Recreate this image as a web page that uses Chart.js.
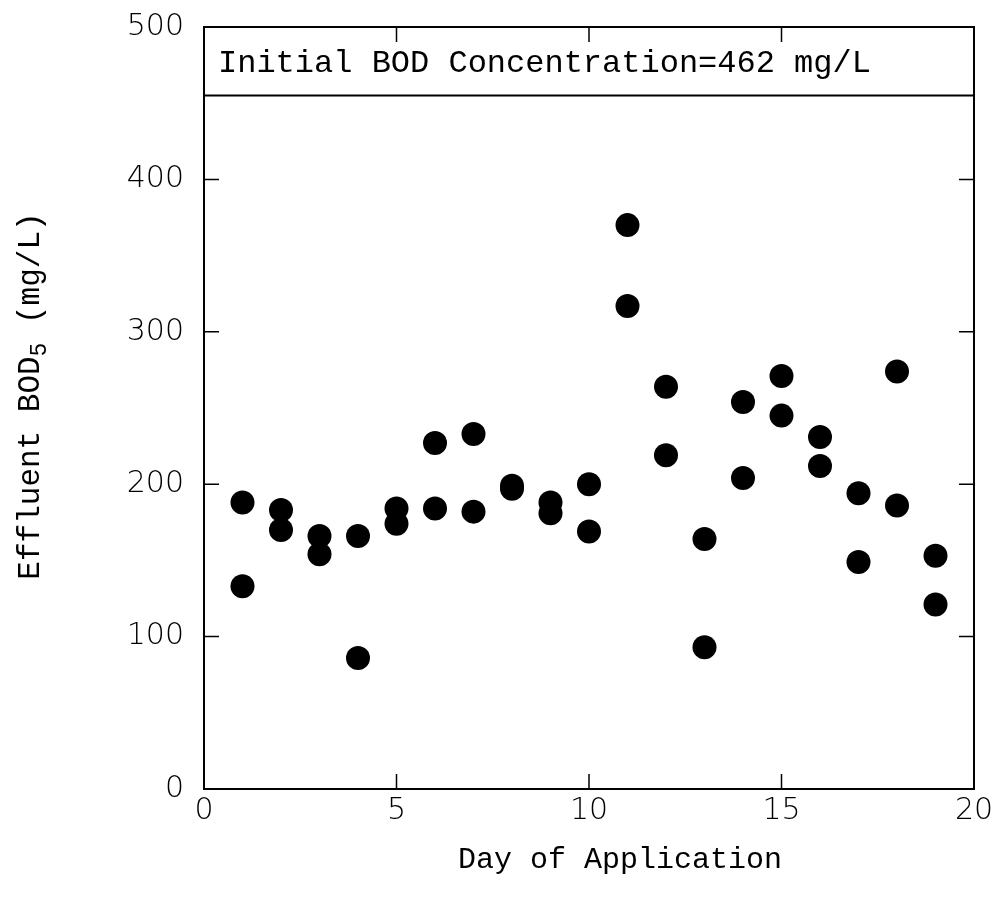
<!DOCTYPE html>
<html>
<head>
<meta charset="utf-8">
<script src="https://cdn.jsdelivr.net/npm/chart.js@4"></script>
<style>
  html, body { margin: 0; padding: 0; background: #fff; }
  #wrap { width: 998px; height: 913px; }
</style>
</head>
<body>
<div id="wrap"><canvas id="bod"></canvas></div>
<script>
// Effluent BOD5, two samples per day of application
const days = [1, 2, 3, 4, 5, 6, 7, 8, 9, 10, 11, 12, 13, 14, 15, 16, 17, 18, 19];
const sampleA = [188, 183, 166, 166, 184, 227, 233, 199, 188, 200, 370, 264, 164, 254, 271, 231, 194, 274, 153];
const sampleB = [133, 170, 154, 86, 174, 184, 182, 197, 181, 169, 317, 219, 93, 204, 245, 212, 149, 186, 121];
const xTicks = [0, 5, 10, 15, 20];
const yTicks = [0, 100, 200, 300, 400, 500];
const bandValue = 455;
const bandText = 'Initial BOD Concentration=462 mg/L';

const monoFont = '"Liberation Mono", monospace';
const tickFont = { family: '"DejaVu Sans", sans-serif', size: 30, weight: 200 };

const points = [];
days.forEach((d, i) => {
  points.push({ x: d, y: sampleA[i] });
  points.push({ x: d, y: sampleB[i] });
});

// frame, inward ticks, header band and axis titles
const framePlugin = {
  id: 'frame',
  afterDraw(chart) {
    const { ctx, chartArea: a, scales } = chart;
    const xs = scales.x, ys = scales.y;
    const tl = 15;
    ctx.save();
    ctx.strokeStyle = '#000';
    ctx.lineWidth = 1.5;
    xTicks.forEach(v => {
      const px = xs.getPixelForValue(v);
      ctx.beginPath();
      ctx.moveTo(px, a.bottom); ctx.lineTo(px, a.bottom - tl);
      ctx.moveTo(px, a.top); ctx.lineTo(px, a.top + tl);
      ctx.stroke();
    });
    yTicks.forEach(v => {
      const py = ys.getPixelForValue(v);
      ctx.beginPath();
      ctx.moveTo(a.left, py); ctx.lineTo(a.left + tl, py);
      ctx.moveTo(a.right, py); ctx.lineTo(a.right - tl, py);
      ctx.stroke();
    });
    // header band (drawn over ticks)
    const by = ys.getPixelForValue(bandValue);
    ctx.fillStyle = '#fff';
    ctx.fillRect(a.left + 1, a.top + tl + 1, a.right - a.left - 2, by - a.top - tl - 2);
    ctx.lineWidth = 2;
    ctx.beginPath();
    ctx.moveTo(a.left, by); ctx.lineTo(a.right, by);
    ctx.stroke();
    ctx.strokeRect(a.left, a.top, a.right - a.left, a.bottom - a.top);

    ctx.fillStyle = '#000';
    ctx.font = '32px ' + monoFont;
    ctx.textAlign = 'left';
    ctx.textBaseline = 'middle';
    ctx.fillText(bandText, a.left + 14, (a.top + by) / 2 + 2);

    // x title
    ctx.font = '30px ' + monoFont;
    ctx.textAlign = 'center';
    ctx.fillText('Day of Application', 620, 860);

    // y title with subscript
    ctx.translate(31, 396);
    ctx.rotate(-Math.PI / 2);
    const big = '31px ' + monoFont, small = '23px ' + monoFont;
    const p1 = 'Effluent BOD', p2 = '5', p3 = ' (mg/L)';
    ctx.font = big;
    const w1 = ctx.measureText(p1).width, w3 = ctx.measureText(p3).width;
    ctx.font = small;
    const w2 = ctx.measureText(p2).width;
    let x = -(w1 + w2 + w3) / 2;
    ctx.textAlign = 'left';
    ctx.font = big;
    ctx.fillText(p1, x, 0); x += w1;
    ctx.font = small;
    ctx.fillText(p2, x, 9); x += w2;
    ctx.font = big;
    ctx.fillText(p3, x, 0);
    ctx.restore();
  }
};

new Chart('bod', {
  type: 'scatter',
  data: {
    datasets: [{
      data: points,
      backgroundColor: '#000',
      borderWidth: 0,
      pointRadius: 12,
      pointHoverRadius: 12
    }]
  },
  options: {
    responsive: true,
    maintainAspectRatio: false,
    animation: false,
    layout: { padding: { top: 27, right: 24, left: 0, bottom: 0 } },
    plugins: { legend: { display: false }, tooltip: { enabled: false } },
    scales: {
      x: {
        type: 'linear',
        min: 0, max: 20,
        afterBuildTicks: s => { s.ticks = xTicks.map(v => ({ value: v })); },
        afterFit: s => { s.height = 124; s.paddingLeft = 0; s.paddingRight = 0; },
        grid: { display: false, drawTicks: false },
        border: { display: false },
        ticks: { color: '#000', font: tickFont, padding: 4, maxRotation: 0 }
      },
      y: {
        min: 0, max: 500,
        afterBuildTicks: s => { s.ticks = yTicks.map(v => ({ value: v })); },
        afterFit: s => { s.width = 204; s.paddingTop = 0; s.paddingBottom = 0; },
        grid: { display: false, drawTicks: false },
        border: { display: false },
        ticks: { color: '#000', font: tickFont, padding: 20 }
      }
    }
  },
  plugins: [framePlugin]
});
</script>
</body>
</html>
